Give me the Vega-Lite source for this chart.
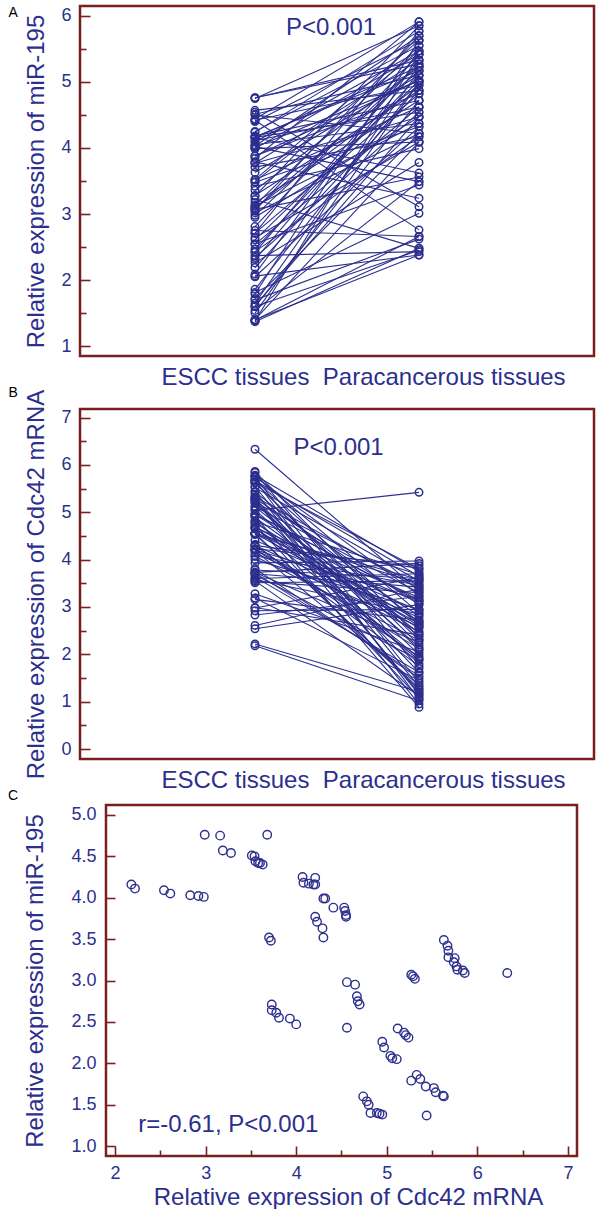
{
  "$schema": "https://vega.github.io/schema/vega-lite/v6.json",
  "padding": {"left": 6, "top": 4, "right": 0, "bottom": 0},
  "background": "white",
  "config": {
    "font": "Liberation Sans",
    "view": {"stroke": "#7a1f1f", "strokeWidth": 2.5},
    "axis": {
      "domain": false, "grid": false,
      "labelFont": "Liberation Sans", "titleFont": "Liberation Sans",
      "labelColor": "#2c2f8e", "titleColor": "#2c2f8e",
      "labelFontSize": 18, "titleFontSize": 24, "titleFontWeight": "normal",
      "tickColor": "#7a1f1f", "tickWidth": 1.6
    },
    "text": {"font": "Liberation Sans"}
  },
  "data": {"values": [
    {"id":1,"tissue":"ESCC","group":1,"mir":4.16,"cdc":2.18},{"id":1,"tissue":"Para","group":2,"mir":5.23,"cdc":1.02},
    {"id":2,"tissue":"ESCC","group":1,"mir":4.11,"cdc":2.22},{"id":2,"tissue":"Para","group":2,"mir":4.62,"cdc":1.21},
    {"id":3,"tissue":"ESCC","group":1,"mir":4.09,"cdc":2.54},{"id":3,"tissue":"Para","group":2,"mir":5.47,"cdc":3.05},
    {"id":4,"tissue":"ESCC","group":1,"mir":4.05,"cdc":2.61},{"id":4,"tissue":"Para","group":2,"mir":4.37,"cdc":3.38},
    {"id":5,"tissue":"ESCC","group":1,"mir":4.03,"cdc":2.83},{"id":5,"tissue":"Para","group":2,"mir":5.70,"cdc":3.22},
    {"id":6,"tissue":"ESCC","group":1,"mir":4.02,"cdc":2.92},{"id":6,"tissue":"Para","group":2,"mir":3.49,"cdc":2.95},
    {"id":7,"tissue":"ESCC","group":1,"mir":4.01,"cdc":2.98},{"id":7,"tissue":"Para","group":2,"mir":5.02,"cdc":3.62},
    {"id":8,"tissue":"ESCC","group":1,"mir":4.76,"cdc":2.99},{"id":8,"tissue":"Para","group":2,"mir":5.33,"cdc":2.41},
    {"id":9,"tissue":"ESCC","group":1,"mir":4.75,"cdc":3.16},{"id":9,"tissue":"Para","group":2,"mir":5.85,"cdc":2.72},
    {"id":10,"tissue":"ESCC","group":1,"mir":4.57,"cdc":3.19},{"id":10,"tissue":"Para","group":2,"mir":4.87,"cdc":1.45},
    {"id":11,"tissue":"ESCC","group":1,"mir":4.54,"cdc":3.28},{"id":11,"tissue":"Para","group":2,"mir":3.11,"cdc":2.05},
    {"id":12,"tissue":"ESCC","group":1,"mir":4.76,"cdc":3.68},{"id":12,"tissue":"Para","group":2,"mir":5.27,"cdc":1.88},
    {"id":13,"tissue":"ESCC","group":1,"mir":4.51,"cdc":3.51},{"id":13,"tissue":"Para","group":2,"mir":5.10,"cdc":3.55},
    {"id":14,"tissue":"ESCC","group":1,"mir":4.50,"cdc":3.54},{"id":14,"tissue":"Para","group":2,"mir":4.22,"cdc":3.30},
    {"id":15,"tissue":"ESCC","group":1,"mir":4.44,"cdc":3.55},{"id":15,"tissue":"Para","group":2,"mir":5.91,"cdc":1.12},
    {"id":16,"tissue":"ESCC","group":1,"mir":4.42,"cdc":3.58},{"id":16,"tissue":"Para","group":2,"mir":4.95,"cdc":2.85},
    {"id":17,"tissue":"ESCC","group":1,"mir":4.42,"cdc":3.60},{"id":17,"tissue":"Para","group":2,"mir":2.76,"cdc":3.70},
    {"id":18,"tissue":"ESCC","group":1,"mir":4.40,"cdc":3.63},{"id":18,"tissue":"Para","group":2,"mir":5.63,"cdc":1.62},
    {"id":19,"tissue":"ESCC","group":1,"mir":4.25,"cdc":4.07},{"id":19,"tissue":"Para","group":2,"mir":5.55,"cdc":2.30},
    {"id":20,"tissue":"ESCC","group":1,"mir":4.18,"cdc":4.08},{"id":20,"tissue":"Para","group":2,"mir":4.72,"cdc":3.46},
    {"id":21,"tissue":"ESCC","group":1,"mir":4.17,"cdc":4.14},{"id":21,"tissue":"Para","group":2,"mir":5.17,"cdc":2.58},
    {"id":22,"tissue":"ESCC","group":1,"mir":4.16,"cdc":4.19},{"id":22,"tissue":"Para","group":2,"mir":3.62,"cdc":1.35},
    {"id":23,"tissue":"ESCC","group":1,"mir":4.24,"cdc":4.21},{"id":23,"tissue":"Para","group":2,"mir":5.77,"cdc":3.15},
    {"id":24,"tissue":"ESCC","group":1,"mir":4.16,"cdc":4.21},{"id":24,"tissue":"Para","group":2,"mir":4.54,"cdc":2.12},
    {"id":25,"tissue":"ESCC","group":1,"mir":3.99,"cdc":4.30},{"id":25,"tissue":"Para","group":2,"mir":5.42,"cdc":3.82},
    {"id":26,"tissue":"ESCC","group":1,"mir":3.99,"cdc":4.32},{"id":26,"tissue":"Para","group":2,"mir":4.09,"cdc":1.75},
    {"id":27,"tissue":"ESCC","group":1,"mir":3.88,"cdc":4.41},{"id":27,"tissue":"Para","group":2,"mir":5.02,"cdc":2.92},
    {"id":28,"tissue":"ESCC","group":1,"mir":3.88,"cdc":4.53},{"id":28,"tissue":"Para","group":2,"mir":4.82,"cdc":3.58},
    {"id":29,"tissue":"ESCC","group":1,"mir":3.84,"cdc":4.54},{"id":29,"tissue":"Para","group":2,"mir":5.91,"cdc":1.28},
    {"id":30,"tissue":"ESCC","group":1,"mir":3.79,"cdc":4.55},{"id":30,"tissue":"Para","group":2,"mir":3.24,"cdc":2.65},
    {"id":31,"tissue":"ESCC","group":1,"mir":3.77,"cdc":4.55},{"id":31,"tissue":"Para","group":2,"mir":4.47,"cdc":3.10},
    {"id":32,"tissue":"ESCC","group":1,"mir":3.77,"cdc":4.21},{"id":32,"tissue":"Para","group":2,"mir":5.33,"cdc":2.48},
    {"id":33,"tissue":"ESCC","group":1,"mir":3.71,"cdc":4.23},{"id":33,"tissue":"Para","group":2,"mir":4.17,"cdc":3.87},
    {"id":34,"tissue":"ESCC","group":1,"mir":3.63,"cdc":4.29},{"id":34,"tissue":"Para","group":2,"mir":5.10,"cdc":1.95},
    {"id":35,"tissue":"ESCC","group":1,"mir":3.52,"cdc":4.30},{"id":35,"tissue":"Para","group":2,"mir":4.62,"cdc":2.78},
    {"id":36,"tissue":"ESCC","group":1,"mir":3.52,"cdc":3.70},{"id":36,"tissue":"Para","group":2,"mir":5.63,"cdc":3.42},
    {"id":37,"tissue":"ESCC","group":1,"mir":3.48,"cdc":3.72},{"id":37,"tissue":"Para","group":2,"mir":4.32,"cdc":1.55},
    {"id":38,"tissue":"ESCC","group":1,"mir":3.49,"cdc":5.63},{"id":38,"tissue":"Para","group":2,"mir":5.47,"cdc":2.20},
    {"id":39,"tissue":"ESCC","group":1,"mir":3.42,"cdc":5.67},{"id":39,"tissue":"Para","group":2,"mir":3.99,"cdc":3.65},
    {"id":40,"tissue":"ESCC","group":1,"mir":3.36,"cdc":5.68},{"id":40,"tissue":"Para","group":2,"mir":5.23,"cdc":1.05},
    {"id":41,"tissue":"ESCC","group":1,"mir":3.28,"cdc":5.68},{"id":41,"tissue":"Para","group":2,"mir":4.87,"cdc":2.62},
    {"id":42,"tissue":"ESCC","group":1,"mir":3.27,"cdc":5.75},{"id":42,"tissue":"Para","group":2,"mir":5.85,"cdc":3.25},
    {"id":43,"tissue":"ESCC","group":1,"mir":3.22,"cdc":5.74},{"id":43,"tissue":"Para","group":2,"mir":2.48,"cdc":1.40},
    {"id":44,"tissue":"ESCC","group":1,"mir":3.17,"cdc":5.77},{"id":44,"tissue":"Para","group":2,"mir":4.72,"cdc":2.88},
    {"id":45,"tissue":"ESCC","group":1,"mir":3.13,"cdc":5.78},{"id":45,"tissue":"Para","group":2,"mir":5.55,"cdc":3.75},
    {"id":46,"tissue":"ESCC","group":1,"mir":3.12,"cdc":5.84},{"id":46,"tissue":"Para","group":2,"mir":4.37,"cdc":1.70},
    {"id":47,"tissue":"ESCC","group":1,"mir":3.09,"cdc":5.86},{"id":47,"tissue":"Para","group":2,"mir":5.17,"cdc":2.35},
    {"id":48,"tissue":"ESCC","group":1,"mir":3.09,"cdc":6.33},{"id":48,"tissue":"Para","group":2,"mir":4.95,"cdc":3.34},
    {"id":49,"tissue":"ESCC","group":1,"mir":3.07,"cdc":5.27},{"id":49,"tissue":"Para","group":2,"mir":3.56,"cdc":2.00},
    {"id":50,"tissue":"ESCC","group":1,"mir":3.05,"cdc":5.29},{"id":50,"tissue":"Para","group":2,"mir":5.70,"cdc":3.05},
    {"id":51,"tissue":"ESCC","group":1,"mir":3.02,"cdc":5.31},{"id":51,"tissue":"Para","group":2,"mir":4.22,"cdc":1.18},
    {"id":52,"tissue":"ESCC","group":1,"mir":2.98,"cdc":4.56},{"id":52,"tissue":"Para","group":2,"mir":5.27,"cdc":3.50},
    {"id":53,"tissue":"ESCC","group":1,"mir":2.95,"cdc":4.65},{"id":53,"tissue":"Para","group":2,"mir":4.47,"cdc":2.55},
    {"id":54,"tissue":"ESCC","group":1,"mir":2.81,"cdc":4.67},{"id":54,"tissue":"Para","group":2,"mir":5.42,"cdc":1.88},
    {"id":55,"tissue":"ESCC","group":1,"mir":2.75,"cdc":4.68},{"id":55,"tissue":"Para","group":2,"mir":2.66,"cdc":3.20},
    {"id":56,"tissue":"ESCC","group":1,"mir":2.71,"cdc":4.70},{"id":56,"tissue":"Para","group":2,"mir":4.82,"cdc":2.70},
    {"id":57,"tissue":"ESCC","group":1,"mir":2.71,"cdc":3.73},{"id":57,"tissue":"Para","group":2,"mir":5.77,"cdc":3.92},
    {"id":58,"tissue":"ESCC","group":1,"mir":2.64,"cdc":3.73},{"id":58,"tissue":"Para","group":2,"mir":4.09,"cdc":2.25},
    {"id":59,"tissue":"ESCC","group":1,"mir":2.61,"cdc":3.78},{"id":59,"tissue":"Para","group":2,"mir":5.02,"cdc":3.60},
    {"id":60,"tissue":"ESCC","group":1,"mir":2.55,"cdc":3.81},{"id":60,"tissue":"Para","group":2,"mir":3.44,"cdc":1.50},
    {"id":61,"tissue":"ESCC","group":1,"mir":2.54,"cdc":3.93},{"id":61,"tissue":"Para","group":2,"mir":4.62,"cdc":3.97},
    {"id":62,"tissue":"ESCC","group":1,"mir":2.47,"cdc":4.00},{"id":62,"tissue":"Para","group":2,"mir":5.10,"cdc":2.95},
    {"id":63,"tissue":"ESCC","group":1,"mir":2.43,"cdc":4.56},{"id":63,"tissue":"Para","group":2,"mir":4.17,"cdc":1.25},
    {"id":64,"tissue":"ESCC","group":1,"mir":2.42,"cdc":5.12},{"id":64,"tissue":"Para","group":2,"mir":5.33,"cdc":3.30},
    {"id":65,"tissue":"ESCC","group":1,"mir":2.37,"cdc":5.19},{"id":65,"tissue":"Para","group":2,"mir":2.43,"cdc":2.15},
    {"id":66,"tissue":"ESCC","group":1,"mir":2.34,"cdc":5.21},{"id":66,"tissue":"Para","group":2,"mir":4.54,"cdc":3.45},
    {"id":67,"tissue":"ESCC","group":1,"mir":2.31,"cdc":5.24},{"id":67,"tissue":"Para","group":2,"mir":5.23,"cdc":1.62},
    {"id":68,"tissue":"ESCC","group":1,"mir":2.26,"cdc":4.95},{"id":68,"tissue":"Para","group":2,"mir":3.78,"cdc":2.82},
    {"id":69,"tissue":"ESCC","group":1,"mir":2.19,"cdc":4.97},{"id":69,"tissue":"Para","group":2,"mir":4.87,"cdc":3.12},
    {"id":70,"tissue":"ESCC","group":1,"mir":2.09,"cdc":5.04},{"id":70,"tissue":"Para","group":2,"mir":5.47,"cdc":5.42},
    {"id":71,"tissue":"ESCC","group":1,"mir":2.06,"cdc":5.06},{"id":71,"tissue":"Para","group":2,"mir":2.38,"cdc":1.80},
    {"id":72,"tissue":"ESCC","group":1,"mir":2.05,"cdc":5.11},{"id":72,"tissue":"Para","group":2,"mir":4.32,"cdc":2.45},
    {"id":73,"tissue":"ESCC","group":1,"mir":1.86,"cdc":5.33},{"id":73,"tissue":"Para","group":2,"mir":4.99,"cdc":3.38},
    {"id":74,"tissue":"ESCC","group":1,"mir":1.81,"cdc":5.37},{"id":74,"tissue":"Para","group":2,"mir":3.01,"cdc":2.10},
    {"id":75,"tissue":"ESCC","group":1,"mir":1.79,"cdc":5.27},{"id":75,"tissue":"Para","group":2,"mir":5.63,"cdc":0.95},
    {"id":76,"tissue":"ESCC","group":1,"mir":1.72,"cdc":5.43},{"id":76,"tissue":"Para","group":2,"mir":4.22,"cdc":2.68},
    {"id":77,"tissue":"ESCC","group":1,"mir":1.70,"cdc":5.52},{"id":77,"tissue":"Para","group":2,"mir":2.62,"cdc":3.55},
    {"id":78,"tissue":"ESCC","group":1,"mir":1.65,"cdc":5.54},{"id":78,"tissue":"Para","group":2,"mir":5.17,"cdc":1.32},
    {"id":79,"tissue":"ESCC","group":1,"mir":1.61,"cdc":5.62},{"id":79,"tissue":"Para","group":2,"mir":4.47,"cdc":2.30},
    {"id":80,"tissue":"ESCC","group":1,"mir":1.60,"cdc":5.63},{"id":80,"tissue":"Para","group":2,"mir":2.45,"cdc":3.80},
    {"id":81,"tissue":"ESCC","group":1,"mir":1.60,"cdc":4.74},{"id":81,"tissue":"Para","group":2,"mir":4.72,"cdc":1.08},
    {"id":82,"tissue":"ESCC","group":1,"mir":1.54,"cdc":4.78},{"id":82,"tissue":"Para","group":2,"mir":3.49,"cdc":2.60},
    {"id":83,"tissue":"ESCC","group":1,"mir":1.50,"cdc":4.80},{"id":83,"tissue":"Para","group":2,"mir":4.99,"cdc":3.68},
    {"id":84,"tissue":"ESCC","group":1,"mir":1.40,"cdc":4.82},{"id":84,"tissue":"Para","group":2,"mir":2.38,"cdc":1.92},
    {"id":85,"tissue":"ESCC","group":1,"mir":1.40,"cdc":4.89},{"id":85,"tissue":"Para","group":2,"mir":4.09,"cdc":2.40},
    {"id":86,"tissue":"ESCC","group":1,"mir":1.39,"cdc":4.92},{"id":86,"tissue":"Para","group":2,"mir":2.66,"cdc":0.88},
    {"id":87,"tissue":"ESCC","group":1,"mir":1.38,"cdc":4.95},{"id":87,"tissue":"Para","group":2,"mir":5.42,"cdc":3.15},
    {"id":88,"tissue":"ESCC","group":1,"mir":1.37,"cdc":5.44},{"id":88,"tissue":"Para","group":2,"mir":2.48,"cdc":1.15}
  ]},
  "vconcat": [
    {
      "width": 514, "height": 350,
      "layer": [
        {
          "mark": {"type": "line", "color": "#2c2f8e", "strokeWidth": 1.1, "opacity": 1},
          "encoding": {
            "x": {"field": "group", "type": "quantitative", "scale": {"domain": [-0.067, 3.067], "nice": false, "zero": false},
                  "axis": {"orient": "bottom", "title": "ESCC tissues\u00a0 Paracancerous tissues", "labels": false, "ticks": false, "titlePadding": 9, "titleX": 283, "titleAlign": "center"}},
            "y": {"field": "mir", "type": "quantitative", "scale": {"domain": [0.85, 6.15], "nice": false, "zero": false},
                  "axis": {"orient": "left", "values": [1, 2, 3, 4, 5, 6], "tickSize": -10, "labelPadding": 19, "title": "Relative expression of miR-195", "titlePadding": 12}},
            "detail": {"field": "id", "type": "nominal"}
          }
        },
        {
          "mark": {"type": "point", "shape": "circle", "filled": false, "size": 56, "strokeWidth": 1.5, "color": "#2c2f8e", "opacity": 1},
          "encoding": {
            "x": {"field": "group", "type": "quantitative", "axis": null},
            "y": {"field": "mir", "type": "quantitative", "axis": null}
          }
        },
        {
          "data": {"values": [{}]},
          "mark": {"type": "text", "fontSize": 24, "color": "#2c2f8e"},
          "encoding": {
            "x": {"datum": 1.464, "type": "quantitative", "axis": null},
            "y": {"datum": 5.82, "type": "quantitative", "axis": {"orient": "left", "values": [1.5, 2.5, 3.5, 4.5, 5.5], "tickSize": -6, "labels": false, "title": null}},
            "text": {"value": "P<0.001"}
          }
        },
        {
          "data": {"values": [{}]},
          "mark": {"type": "text", "fontSize": 14, "color": "black"},
          "encoding": {
            "x": {"datum": -0.475, "type": "quantitative", "axis": null},
            "y": {"datum": 6.04, "type": "quantitative", "axis": null},
            "text": {"value": "A"}
          }
        }
      ],
      "resolve": {"axis": {"x": "independent", "y": "independent"}}
    },
    {
      "width": 514, "height": 350,
      "layer": [
        {
          "mark": {"type": "line", "color": "#2c2f8e", "strokeWidth": 1.1, "opacity": 1},
          "encoding": {
            "x": {"field": "group", "type": "quantitative", "scale": {"domain": [-0.067, 3.067], "nice": false, "zero": false},
                  "axis": {"orient": "bottom", "title": "ESCC tissues\u00a0 Paracancerous tissues", "labels": false, "ticks": false, "titlePadding": 9, "titleX": 283, "titleAlign": "center"}},
            "y": {"field": "cdc", "type": "quantitative", "scale": {"domain": [-0.21, 7.18], "nice": false, "zero": false},
                  "axis": {"orient": "left", "values": [0, 1, 2, 3, 4, 5, 6, 7], "tickSize": -10, "labelPadding": 19, "title": "Relative expression of Cdc42 mRNA", "titlePadding": 12}},
            "detail": {"field": "id", "type": "nominal"}
          }
        },
        {
          "mark": {"type": "point", "shape": "circle", "filled": false, "size": 56, "strokeWidth": 1.5, "color": "#2c2f8e", "opacity": 1},
          "encoding": {
            "x": {"field": "group", "type": "quantitative", "axis": null},
            "y": {"field": "cdc", "type": "quantitative", "axis": null}
          }
        },
        {
          "data": {"values": [{}]},
          "mark": {"type": "text", "fontSize": 24, "color": "#2c2f8e"},
          "encoding": {
            "x": {"datum": 1.51, "type": "quantitative", "axis": null},
            "y": {"datum": 6.36, "type": "quantitative", "axis": {"orient": "left", "values": [0.5, 1.5, 2.5, 3.5, 4.5, 5.5, 6.5], "tickSize": -6, "labels": false, "title": null}},
            "text": {"value": "P<0.001"}
          }
        },
        {
          "data": {"values": [{"letter": "B", "pos": 7.52}, {"letter": "C", "pos": -0.994}]},
          "mark": {"type": "text", "fontSize": 14, "color": "black"},
          "encoding": {
            "x": {"datum": -0.475, "type": "quantitative", "axis": null},
            "y": {"field": "pos", "type": "quantitative", "axis": null},
            "text": {"field": "letter"}
          }
        }
      ],
      "resolve": {"axis": {"x": "independent", "y": "independent"}}
    },
    {
      "width": 497, "height": 351,
      "view": {"stroke": null},
      "transform": [{"filter": "datum.tissue == 'ESCC'"}],
      "layer": [
        {
          "data": {"values": [{}]},
          "mark": {"type": "rect", "fill": null, "fillOpacity": 0, "stroke": "#7a1f1f", "strokeWidth": 2.5},
          "encoding": {
            "x": {"datum": 1.9, "type": "quantitative", "axis": null},
            "x2": {"datum": 7.1},
            "y": {"datum": 0.88, "type": "quantitative", "axis": null},
            "y2": {"datum": 5.12}
          }
        },
        {
          "mark": {"type": "point", "shape": "circle", "filled": false, "size": 72, "strokeWidth": 1.4, "color": "#2c2f8e", "opacity": 1},
          "encoding": {
            "x": {"field": "cdc", "type": "quantitative", "scale": {"domain": [1.613, 7.1], "nice": false, "zero": false},
                  "axis": {"orient": "bottom", "values": [2, 3, 4, 5, 6, 7], "tickSize": -10, "labelPadding": 18, "title": "Relative expression of Cdc42 mRNA", "titlePadding": 3, "titleX": 268, "titleAlign": "center"}},
            "y": {"field": "mir", "type": "quantitative", "scale": {"domain": [0.88, 5.12], "nice": false, "zero": false},
                  "axis": {"orient": "left", "offset": -26, "values": [1, 1.5, 2, 2.5, 3, 3.5, 4, 4.5, 5], "format": ".1f", "tickSize": -9, "labelPadding": 19, "title": "Relative expression of miR-195", "titlePadding": 23}}
          }
        },
        {
          "data": {"values": [{}]},
          "mark": {"type": "text", "fontSize": 24, "color": "#2c2f8e"},
          "encoding": {
            "x": {"datum": 3.25, "type": "quantitative", "axis": {"orient": "bottom", "values": [2.5, 3.5, 4.5, 5.5, 6.5], "tickSize": -6, "labels": false, "title": null}},
            "y": {"datum": 1.26, "type": "quantitative", "axis": null},
            "text": {"value": "r=-0.61, P<0.001"}
          }
        }
      ],
      "resolve": {"axis": {"x": "independent", "y": "independent"}}
    }
  ],
  "spacing": -7
}
